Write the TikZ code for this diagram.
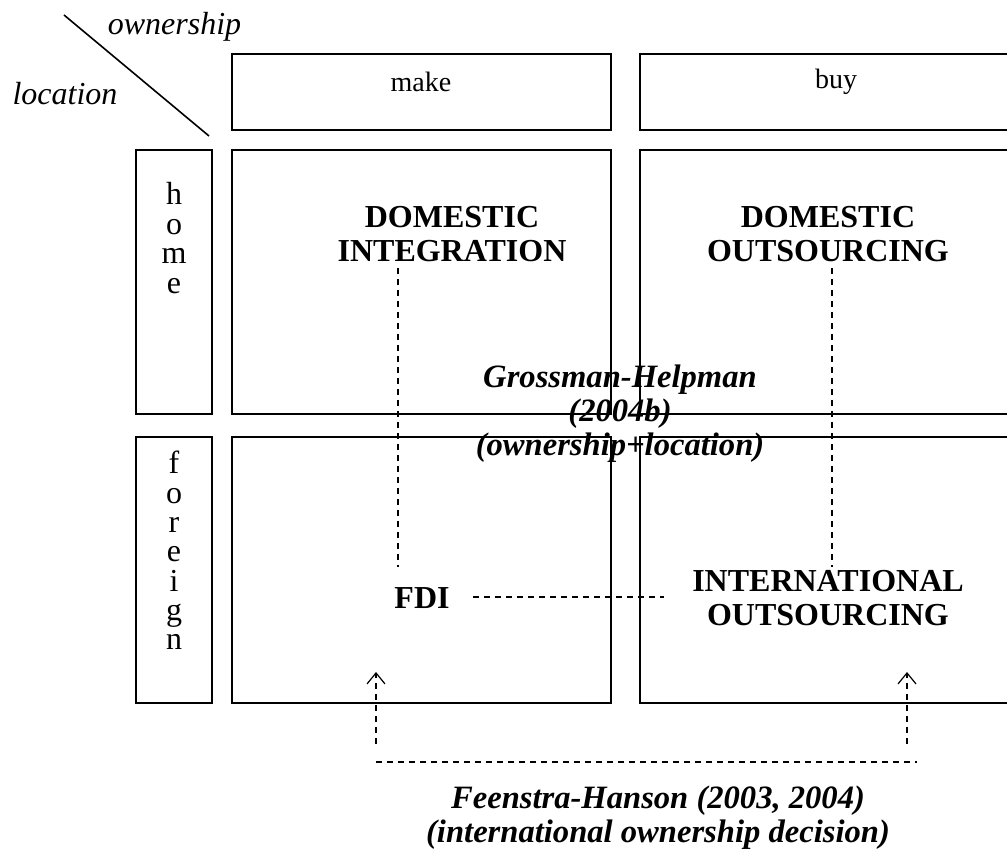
\documentclass[tikz,border=0pt]{standalone}
\usepackage{fontspec}
\setmainfont{Liberation Serif}
\usetikzlibrary{arrows.meta}
\tikzstyle{cell} = [rectangle, draw=black, line width=0.9pt, minimum width=189.5pt, minimum height=132pt, inner sep=0pt]
\tikzstyle{headcell} = [cell, minimum height=38pt]
\tikzstyle{sidecell} = [cell, minimum width=38pt]
\tikzstyle{plain} = [font=\fontsize{16}{17}\selectfont, align=center]
\tikzstyle{head} = [plain, font=\fontsize{14}{17}\selectfont]
\tikzstyle{axis} = [plain, font=\fontsize{16}{17}\selectfont\itshape]
\tikzstyle{strong} = [plain, font=\fontsize{16}{16.8}\selectfont\bfseries]
\tikzstyle{cite} = [plain, font=\fontsize{16.3}{17}\selectfont\bfseries\itshape]
\tikzstyle{link} = [line width=0.6pt, dash pattern=on 3pt off 2.5pt]
\tikzstyle{edge} = [link, -{Straight Barb[length=5.5pt, width=9pt]}]

\begin{document}
\begin{tikzpicture}[x=0.5pt, y=-0.5pt]
\useasboundingbox (0,0) rectangle (1007,855);
\clip (0,0) rectangle (1007,855);

% corner
\coordinate (c0) at (64,15);
\coordinate (c1) at (209,136);
\draw [line width=0.8pt] (c0) -- (c1);
\node (own) [axis] at (174.5,27) {ownership};
\node (loc) [axis] at (65,94) {location};

% column heads
\node (make) [headcell] at (421.5,92) {};
\node (buy) [headcell] at (829.5,92) {};
\node (maket) [head] at (421,82) {make};
\node (buyt) [head] at (836,82) {buy};

% row heads
\node (home) [sidecell] at (174,282) {};
\node (foreign) [sidecell, minimum height=133pt] at (174,570) {};
\foreach \c [count=\i] in {h,o,m,e}
  \node (home\i) [plain, anchor=base] at (174,205+29.5*\i-29.5) {\c};
\foreach \c [count=\i] in {f,o,r,e,i,g,n}
  \node (foreign\i) [plain, anchor=base] at (174,474+29.3*\i-29.3) {\c};

% cells
\node (di) [cell] at (421.5,282) {};
\node (do) [cell] at (829.5,282) {};
\node (fdi) [cell, minimum height=133pt] at (421.5,570) {};
\node (io) [cell, minimum height=133pt] at (829.5,570) {};

\node (dit) [strong] at (452,234) {DOMESTIC\\INTEGRATION};
\node (dot) [strong] at (828,234) {DOMESTIC\\OUTSOURCING};
\node (fdit) [strong] at (422,598) {FDI};
\node (iot) [strong] at (828,598) {INTERNATIONAL\\OUTSOURCING};

\node (gh) [cite] at (620,414) {Grossman-Helpman\\(2004b)\\(ownership+location)};
\node (fh) [cite] at (658,818) {Feenstra-Hanson (2003, 2004)\\(international ownership decision)};

% links
\coordinate (l0) at (398,268);
\coordinate (l1) at (398,567);
\coordinate (r0) at (832,268);
\coordinate (r1) at (832,567);
\coordinate (m0) at (473,597);
\coordinate (m1) at (664,597);
\draw [link] (l0) -- (l1);
\draw [link] (r0) -- (r1);
\draw [link] (m0) -- (m1);

\coordinate (a0) at (376,744);
\coordinate (a1) at (376,672);
\coordinate (b0) at (907,744);
\coordinate (b1) at (907,672);
\coordinate (h0) at (376,762);
\coordinate (h1) at (917,762);
\draw [edge] (a0) -- (a1);
\draw [edge] (b0) -- (b1);
\draw [link] (h0) -- (h1);

\end{tikzpicture}
\end{document}
